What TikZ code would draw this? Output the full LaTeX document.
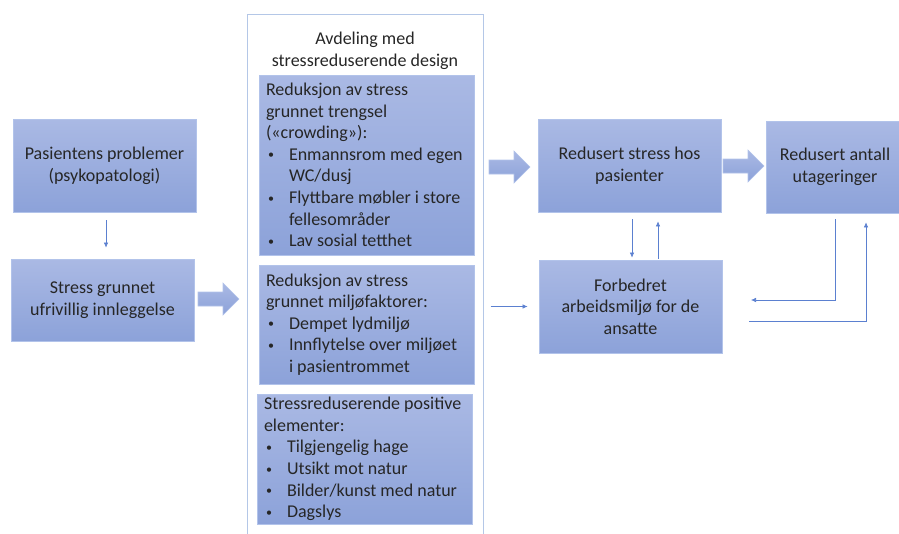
\documentclass[tikz,border=0pt]{standalone}
\usepackage{fontspec}
\setmainfont{Carlito}
\usetikzlibrary{arrows.meta}
\definecolor{boxtop}{HTML}{AAB9E4}
\definecolor{boxbot}{HTML}{8CA2D9}
\definecolor{boxline}{HTML}{B2C3EA}
\definecolor{linkblue}{HTML}{5B80D0}
\definecolor{framecol}{HTML}{B4C7E7}
\definecolor{txt}{HTML}{262626}
\newcommand{\itm}{\makebox[23pt][l]{\hspace{2pt}\raisebox{1.5pt}{\fontsize{12}{12}\selectfont\textbullet}}}
\newcommand{\cnt}{\hspace*{23pt}}
\tikzset{
  box/.style={draw=boxline, line width=0.8pt, top color=boxtop, bottom color=boxbot, inner sep=0pt, align=center, text=txt, font=\fontsize{18}{21.6}\selectfont},
  listbox/.style={box, align=flush left, inner xsep=7pt, inner ysep=0pt},
  link/.style={draw=linkblue, line width=0.6pt, -{Latex[length=5pt,width=4.5pt]}},
  pics/fatarrow/.style={code={\path[draw=boxline, line width=0.6pt, top color=boxtop, bottom color=boxbot] (0,-7) -- (25,-7) -- (25,-16) -- (41,0) -- (25,16) -- (25,7) -- (0,7) -- cycle;}}
}
\begin{document}
\begin{tikzpicture}[x=1pt, y=-1pt]
  \useasboundingbox (0,0) rectangle (899,533);
  \node[box, minimum width=183, minimum height=93] (prob) at (104.5,165.5) {Pasientens problemer\\(psykopatologi)};
  \node[box, minimum width=183, minimum height=82] (innl) at (102.5,300) {Stress grunnet\\ufrivillig innleggelse};
  \node[draw=framecol, line width=1pt, minimum width=236, minimum height=532, anchor=north] (avd) at (365,14) {};
  \node[align=center, inner sep=0pt, text=txt, font=\fontsize{18}{21.6}\selectfont] (tittel) at (365,50.5) {Avdeling med\\stressreduserende design};
  \node[listbox, text width=201, minimum height=180] (trengsel) at (366.5,165) {Reduksjon av stress\\grunnet trengsel\\(«crowding»):\\\itm Enmannsrom med egen\\\cnt WC/dusj\\\itm Flyttbare møbler i store\\\cnt fellesområder\\\itm Lav sosial tetthet};
  \node[listbox, text width=201, minimum height=119] (faktor) at (366.5,324.5) {Reduksjon av stress\\grunnet miljøfaktorer:\\\itm Dempet lydmiljø\\\itm Innflytelse over miljøet\\\cnt i pasientrommet};
  \node[listbox, text width=201, minimum height=130] (positiv) at (364.5,459) {Stressreduserende positive\\elementer:\\\itm Tilgjengelig hage\\\itm Utsikt mot natur\\\itm Bilder/kunst med natur\\\itm Dagslys};
  \node[box, minimum width=183, minimum height=93] (stress) at (629.5,165.5) {Redusert stress hos\\pasienter};
  \node[box, minimum width=138, minimum height=92] (utag) at (835,167) {Redusert antall\\utageringer};
  \node[box, minimum width=183, minimum height=93] (miljo) at (630.5,306.5) {Forbedret\\arbeidsmiljø for de\\ansatte};
  \coordinate (fb1) at (751,300);
  \coordinate (fb2) at (749,321);
  \pic at (198,299) {fatarrow};
  \pic at (489,167) {fatarrow};
  \pic at (723,166) {fatarrow};
  \draw[link, shorten <=8pt, shorten >=11pt] (prob.south -| 106,0) -- (innl.north -| 106,0);
  \draw[link, shorten <=7pt, shorten >=11pt] (avd.east |- miljo.west) -- (miljo.west);
  \draw[link, shorten <=7pt, shorten >=2pt] (632,0 |- stress.south) -- (632,0 |- miljo.north);
  \draw[link, shorten <=1pt, shorten >=9pt] (658,0 |- miljo.north) -- (658,0 |- stress.south);
  \draw[link, shorten <=6pt] (835,0 |- utag.south) |- (fb1);
  \draw[link, shorten >=9pt] (fb2) -| (866,0 |- utag.south);
\end{tikzpicture}
\end{document}
